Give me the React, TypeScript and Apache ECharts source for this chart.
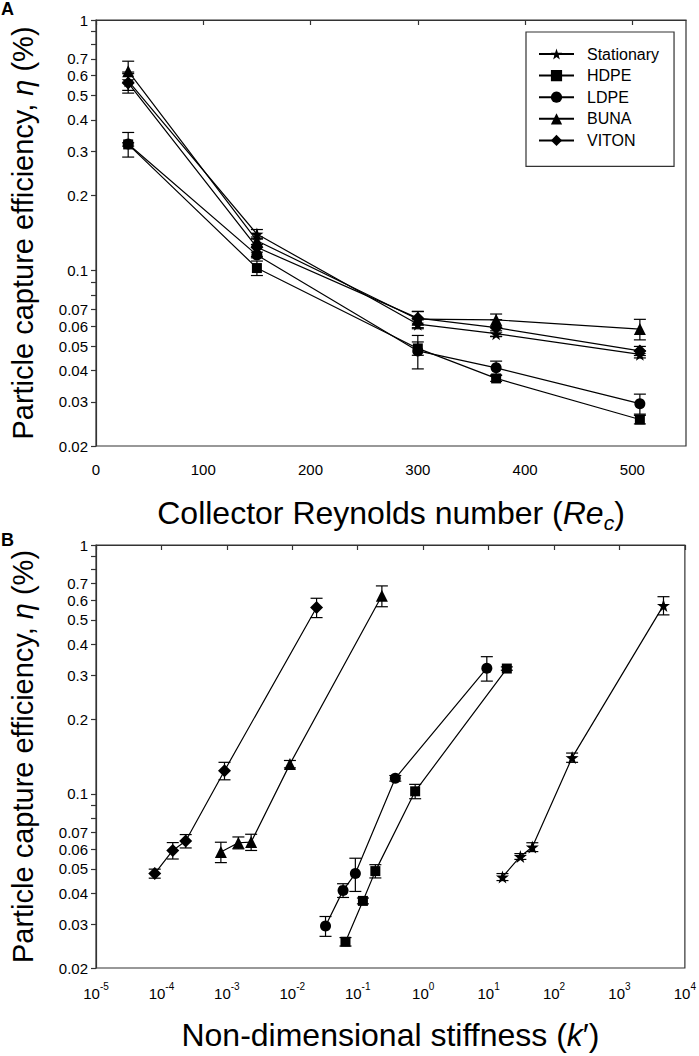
import { useEffect, useRef } from "react";
import * as echarts from "echarts";

const FONT = "'Liberation Sans', Arial, Helvetica, sans-serif";

// ---------- data ----------
const reynoldsNumbers = [30, 150, 300, 373, 507];
const materialNames = ["Stationary", "HDPE", "LDPE", "BUNA", "VITON"];

const stationaryEta = [0.572, 0.14, 0.0612, 0.0561, 0.0464];
const stationaryErr = [0.048, 0.006, 0.0025, 0.0015, 0.0015];
const stationaryStiffness = [4710, 189, 46.6, 30.6, 16.3];

const hdpeEta = [0.319, 0.1025, 0.049, 0.0372, 0.0255];
const hdpeErr = [0.005, 0.0068, 0.003, 0.001, 0.001];
const hdpeStiffness = [19, 0.755, 0.186, 0.12, 0.065];

const ldpeEta = [0.32, 0.1156, 0.0479, 0.041, 0.0295];
const ldpeErr = [0.036, 0.003, 0.0073, 0.0026, 0.0027];
const ldpeStiffness = [9.4, 0.375, 0.092, 0.0597, 0.0322];

const bunaEta = [0.625, 0.1318, 0.0641, 0.0637, 0.0585];
const bunaErr = [0.06, 0.0045, 0.0048, 0.0035, 0.0055];
const bunaStiffness = [0.234, 0.0092, 0.00235, 0.0015, 0.00081];

const vitonEta = [0.561, 0.124, 0.0647, 0.0593, 0.0479];
const vitonErr = [0.05, 0.01, 0.004, 0.0045, 0.002];
const vitonStiffness = [0.0235, 0.00092, 0.000235, 0.000149, 0.000079];

const etaTickValues = [0.02, 0.03, 0.04, 0.05, 0.06, 0.07, 0.08, 0.09, 0.1, 0.2, 0.3, 0.4, 0.5, 0.6, 0.7, 0.8, 0.9, 1];
const etaLabelValues = [0.02, 0.03, 0.04, 0.05, 0.06, 0.07, 0.1, 0.2, 0.3, 0.4, 0.5, 0.6, 0.7, 1];
const reynoldsTicks = [0, 100, 200, 300, 400, 500];

// ---------- styles ----------
const STAR =
  "path://M50,0 L61.8,35.1 L98.9,35.3 L69.1,57.5 L79.4,91 L50,70.7 L20.6,91 L30.9,57.5 L1.1,35.3 L38.2,35.1 Z";
const markerStyles = [
  { symbol: STAR, size: 13 },
  { symbol: "rect", size: 10 },
  { symbol: "circle", size: 11 },
  { symbol: "triangle", size: 12 },
  { symbol: "diamond", size: 13 },
];

const materials = [
  { eta: stationaryEta, err: stationaryErr, k: stationaryStiffness },
  { eta: hdpeEta, err: hdpeErr, k: hdpeStiffness },
  { eta: ldpeEta, err: ldpeErr, k: ldpeStiffness },
  { eta: bunaEta, err: bunaErr, k: bunaStiffness },
  { eta: vitonEta, err: vitonErr, k: vitonStiffness },
];

const INK = "#000";
const FRAME = "#333";

function errorBarSeries(xAxisIndex: number, yAxisIndex: number, data: number[][]) {
  return {
    type: "custom",
    xAxisIndex,
    yAxisIndex,
    z: 2,
    silent: true,
    data,
    encode: { x: 0, y: [1, 2] },
    renderItem: (_params: any, api: any) => {
      const x = api.value(0);
      const lo = api.value(1);
      const hi = api.value(2);
      const pLo = api.coord([x, lo]);
      const pHi = api.coord([x, hi]);
      const w = 6;
      const style = { stroke: INK, lineWidth: 1.2 };
      return {
        type: "group",
        children: [
          { type: "line", shape: { x1: pLo[0], y1: pLo[1], x2: pHi[0], y2: pHi[1] }, style },
          { type: "line", shape: { x1: pHi[0] - w, y1: pHi[1], x2: pHi[0] + w, y2: pHi[1] }, style },
          { type: "line", shape: { x1: pLo[0] - w, y1: pLo[1], x2: pLo[0] + w, y2: pLo[1] }, style },
        ],
      };
    },
  };
}

function etaLabel(v: number) {
  return String(parseFloat(Math.pow(10, v).toPrecision(2)));
}

function etaOverlayAxis(gridIndex: number) {
  return {
    type: "value",
    gridIndex,
    position: "left",
    min: Math.log10(0.02),
    max: 0,
    axisLine: { show: false },
    splitLine: { show: false },
    axisTick: {
      show: true,
      length: 5,
      customValues: etaTickValues.map((v) => Math.log10(v)),
      lineStyle: { color: FRAME, width: 1.2 },
    },
    axisLabel: {
      show: true,
      margin: 8,
      fontSize: 15,
      fontFamily: FONT,
      color: INK,
      customValues: etaLabelValues.map((v) => Math.log10(v)),
      formatter: (v: number) => etaLabel(v),
    },
    name: "Particle capture efficiency, {it|η} (%)",
    nameLocation: "middle",
    nameRotate: 90,
    nameGap: 59,
    nameTextStyle: {
      fontSize: 29,
      fontFamily: FONT,
      color: INK,
      rich: { it: { fontSize: 29, fontFamily: FONT, fontStyle: "italic", color: INK } },
    },
  };
}

function etaLogAxis(gridIndex: number) {
  return {
    type: "log",
    logBase: 10,
    gridIndex,
    min: 0.02,
    max: 1,
    axisLine: { show: true, lineStyle: { color: FRAME, width: 1.2 } },
    axisTick: { show: false },
    axisLabel: { show: false },
    splitLine: { show: false },
  };
}

function App() {
  const ref = useRef<HTMLDivElement>(null);

  useEffect(() => {
    if (!ref.current) return;
    const chart = echarts.init(ref.current, undefined, { renderer: "svg" });

    const series: any[] = [];
    materials.forEach((m, i) => {
      const style = markerStyles[i];
      const lineCommon = {
        type: "line",
        name: materialNames[i],
        symbol: style.symbol,
        symbolSize: style.size,
        showSymbol: true,
        z: 3,
        lineStyle: { color: INK, width: 1.2 },
        itemStyle: { color: INK },
      };
      series.push({
        ...lineCommon,
        xAxisIndex: 0,
        yAxisIndex: 0,
        data: reynoldsNumbers.map((r, j) => [r, m.eta[j]]),
      });
      series.push(
        errorBarSeries(
          0,
          0,
          reynoldsNumbers.map((r, j) => [r, m.eta[j] - m.err[j], m.eta[j] + m.err[j]])
        )
      );
      series.push({
        ...lineCommon,
        xAxisIndex: 1,
        yAxisIndex: 2,
        data: m.k.map((k, j) => [k, m.eta[j]]),
      });
      series.push(
        errorBarSeries(
          1,
          2,
          m.k.map((k, j) => [k, m.eta[j] - m.err[j], m.eta[j] + m.err[j]])
        )
      );
    });

    chart.setOption({
      animation: false,
      backgroundColor: "#fff",
      textStyle: { fontFamily: FONT },
      grid: [
        { left: 94, top: 20, width: 592, height: 426, show: true, borderColor: FRAME, borderWidth: 1.2, backgroundColor: "transparent" },
        { left: 94, top: 545, width: 592, height: 426, show: true, borderColor: FRAME, borderWidth: 1.2, backgroundColor: "transparent" },
      ],
      xAxis: [
        {
          type: "value",
          gridIndex: 0,
          min: 0,
          max: 550,
          axisLine: { show: true, lineStyle: { color: FRAME, width: 1.2 } },
          splitLine: { show: false },
          axisTick: { show: true, length: 5, customValues: reynoldsTicks, lineStyle: { color: FRAME, width: 1.2 } },
          axisLabel: { margin: 16, fontSize: 15, fontFamily: FONT, color: INK, customValues: reynoldsTicks },
          name: "Collector Reynolds number ({it|Re}{sub|c})",
          nameLocation: "middle",
          nameGap: 47,
          nameTextStyle: {
            fontSize: 32,
            fontFamily: FONT,
            color: INK,
            lineHeight: 40,
            rich: {
              it: { fontSize: 32, fontFamily: FONT, fontStyle: "italic", color: INK, lineHeight: 40 },
              sub: { fontSize: 21, fontFamily: FONT, fontStyle: "italic", color: INK, lineHeight: 14, verticalAlign: "bottom" },
            },
          },
        },
        {
          type: "log",
          logBase: 10,
          gridIndex: 1,
          min: 0.00001,
          max: 10000,
          splitNumber: 9,
          axisLine: { show: true, lineStyle: { color: FRAME, width: 1.2 } },
          splitLine: { show: false },
          axisTick: { show: true, length: 5, lineStyle: { color: FRAME, width: 1.2 } },
          axisLabel: {
            margin: 13,
            fontSize: 15,
            fontFamily: FONT,
            color: INK,
            formatter: (v: number) => "{b|10}{sup|" + Math.round(Math.log10(v)) + "}",
            rich: {
              b: { fontSize: 15, fontFamily: FONT, color: INK, lineHeight: 20, verticalAlign: "bottom" },
              sup: { fontSize: 10, fontFamily: FONT, color: INK, lineHeight: 10, verticalAlign: "top" },
            },
          },
          name: "Non-dimensional stiffness ({it|k}′)",
          nameLocation: "middle",
          nameGap: 47,
          nameTextStyle: {
            fontSize: 32,
            fontFamily: FONT,
            color: INK,
            lineHeight: 40,
            rich: { it: { fontSize: 32, fontFamily: FONT, fontStyle: "italic", color: INK, lineHeight: 40 } },
          },
        },
      ],
      yAxis: [etaLogAxis(0), etaOverlayAxis(0), etaLogAxis(1), etaOverlayAxis(1)],
      legend: {
        data: materialNames,
        orient: "vertical",
        left: 526,
        top: 32,
        itemWidth: 35,
        itemHeight: 14,
        itemGap: 5.6,
        padding: [14, 15, 18, 12],
        borderColor: FRAME,
        borderWidth: 1.2,
        backgroundColor: "#fff",
        selectedMode: false,
        textStyle: { fontSize: 16, fontFamily: FONT, color: INK, padding: [0, 0, 0, 8] },
      },
      graphic: [
        { type: "text", left: 1, top: 0, style: { text: "A", font: "bold 18px " + FONT, fill: INK } },
        { type: "text", left: 1, top: 531, style: { text: "B", font: "bold 18px " + FONT, fill: INK } },
      ],
      series,
    });

    return () => chart.dispose();
  }, []);

  return (
    <div
      ref={ref}
      style={{ position: "absolute", left: 0, top: 0, width: 699, height: 1056, background: "#fff" }}
    />
  );
}

export default App;
